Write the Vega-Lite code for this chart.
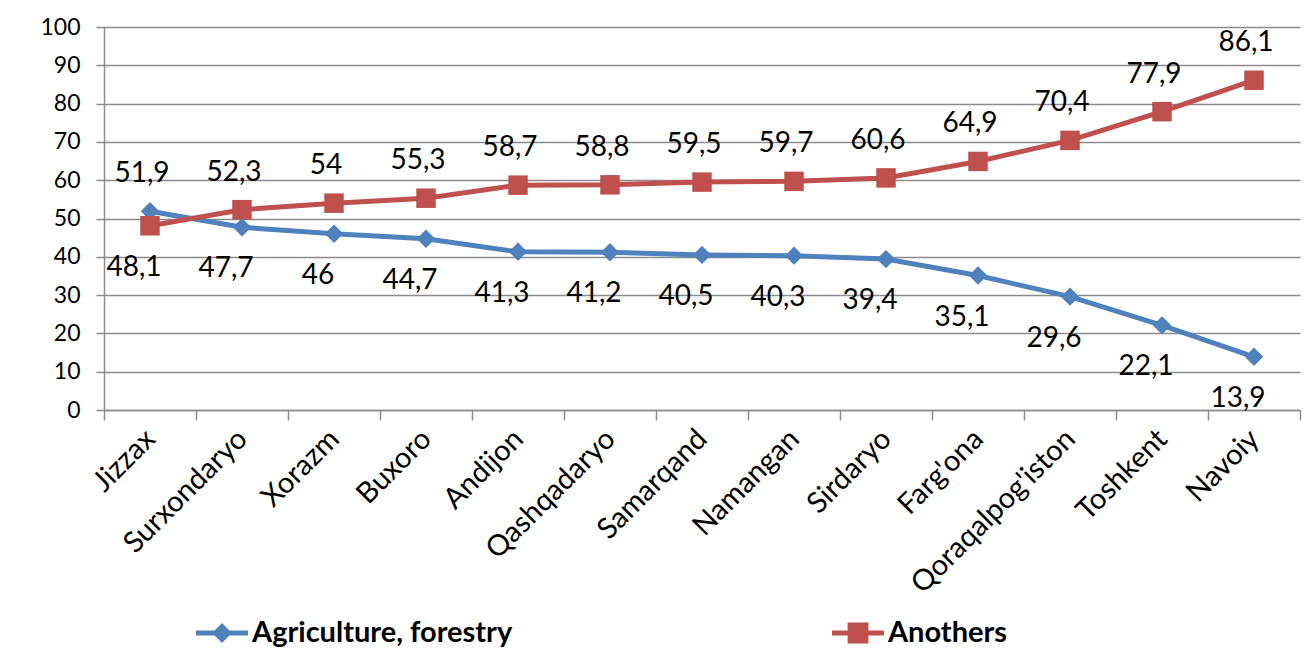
{
  "$schema": "https://vega.github.io/schema/vega-lite/v6.json",
  "width": 1196,
  "height": 383,
  "autosize": "none",
  "padding": {"left": 104, "top": 27, "right": 10, "bottom": 246},
  "background": "white",
  "config": {
    "font": "Lato",
    "view": {"stroke": null},
    "locale": {"number": {"decimal": ",", "thousands": " ", "grouping": [3], "currency": ["", ""]}}
  },
  "data": {
    "values": [
      {"region": "Jizzax", "series": "Agriculture, forestry", "value": 51.9},
      {"region": "Surxondaryo", "series": "Agriculture, forestry", "value": 47.7},
      {"region": "Xorazm", "series": "Agriculture, forestry", "value": 46},
      {"region": "Buxoro", "series": "Agriculture, forestry", "value": 44.7},
      {"region": "Andijon", "series": "Agriculture, forestry", "value": 41.3},
      {"region": "Qashqadaryo", "series": "Agriculture, forestry", "value": 41.2},
      {"region": "Samarqand", "series": "Agriculture, forestry", "value": 40.5},
      {"region": "Namangan", "series": "Agriculture, forestry", "value": 40.3},
      {"region": "Sirdaryo", "series": "Agriculture, forestry", "value": 39.4},
      {"region": "Farg'ona", "series": "Agriculture, forestry", "value": 35.1},
      {"region": "Qoraqalpog'iston", "series": "Agriculture, forestry", "value": 29.6},
      {"region": "Toshkent", "series": "Agriculture, forestry", "value": 22.1},
      {"region": "Navoiy", "series": "Agriculture, forestry", "value": 13.9},
      {"region": "Jizzax", "series": "Anothers", "value": 48.1},
      {"region": "Surxondaryo", "series": "Anothers", "value": 52.3},
      {"region": "Xorazm", "series": "Anothers", "value": 54},
      {"region": "Buxoro", "series": "Anothers", "value": 55.3},
      {"region": "Andijon", "series": "Anothers", "value": 58.7},
      {"region": "Qashqadaryo", "series": "Anothers", "value": 58.8},
      {"region": "Samarqand", "series": "Anothers", "value": 59.5},
      {"region": "Namangan", "series": "Anothers", "value": 59.7},
      {"region": "Sirdaryo", "series": "Anothers", "value": 60.6},
      {"region": "Farg'ona", "series": "Anothers", "value": 64.9},
      {"region": "Qoraqalpog'iston", "series": "Anothers", "value": 70.4},
      {"region": "Toshkent", "series": "Anothers", "value": 77.9},
      {"region": "Navoiy", "series": "Anothers", "value": 86.1}
    ]
  },
  "transform": [
    {"joinaggregate": [{"op": "max", "field": "value", "as": "mx"}], "groupby": ["region"]}
  ],
  "encoding": {
    "x": {
      "field": "region", "type": "nominal", "sort": null,
      "scale": {"type": "band", "paddingInner": 0, "paddingOuter": 0},
      "axis": {
        "title": null, "labelAngle": -45, "labelAlign": "right", "labelBaseline": "middle",
        "labelFontSize": 29, "labelColor": "#000000", "labelPadding": 14, "labelFont": "Lato",
        "tickBand": "extent", "tickSize": 10, "tickColor": "#8c8c8c", "tickWidth": 1.5,
        "domainColor": "#8c8c8c", "domainWidth": 1.5, "grid": false, "labelLimit": 400
      }
    },
    "y": {
      "field": "value", "type": "quantitative",
      "scale": {"domain": [0, 100], "nice": false, "zero": true},
      "axis": {
        "title": null, "values": [0, 10, 20, 30, 40, 50, 60, 70, 80, 90, 100],
        "labelFontSize": 23, "labelColor": "#000000", "labelPadding": 16,
        "tickSize": 8, "tickColor": "#8c8c8c", "tickWidth": 1.5,
        "domainColor": "#8c8c8c", "domainWidth": 1.5,
        "grid": true, "gridColor": "#8c8c8c", "gridWidth": 1.5
      }
    },
    "color": {
      "field": "series", "type": "nominal",
      "scale": {"domain": ["Agriculture, forestry", "Anothers"], "range": ["#4F81BD", "#C0504D"]}
    }
  },
  "layer": [
    {
      "mark": {"type": "line", "strokeWidth": 5}
    },
    {
      "transform": [{"filter": "datum.series == 'Agriculture, forestry'"}],
      "mark": {"type": "point", "shape": "diamond", "filled": true, "size": 340, "opacity": 1}
    },
    {
      "transform": [{"filter": "datum.series == 'Anothers'"}],
      "mark": {"type": "point", "shape": "square", "filled": true, "size": 380, "opacity": 1}
    },
    {
      "transform": [{"filter": "datum.value >= datum.mx"}],
      "mark": {"type": "text", "dy": -37, "dx": -8, "fontSize": 28, "color": "#000000"},
      "encoding": {
        "text": {"field": "value", "type": "quantitative", "format": ".1~f"},
        "color": {"value": "#000000"}
      }
    },
    {
      "transform": [{"filter": "datum.value < datum.mx"}],
      "mark": {"type": "text", "dy": 42, "dx": -16, "fontSize": 28, "color": "#000000"},
      "encoding": {
        "text": {"field": "value", "type": "quantitative", "format": ".1~f"},
        "color": {"value": "#000000"}
      }
    },
    {
      "transform": [{"filter": "false"}],
      "mark": {"type": "point", "filled": true, "opacity": 1, "strokeWidth": 0},
      "encoding": {
        "shape": {
          "field": "series", "type": "nominal",
          "scale": {
            "domain": ["Agriculture, forestry", "Anothers"],
            "range": [
              "M-1,-0.1H-0.285L0,-0.385L0.285,-0.1H1V0.1H0.285L0,0.385L-0.285,0.1H-1Z",
              "M-1,-0.1H-0.4V-0.4H0.4V-0.1H1V0.1H0.4V0.4H-0.4V0.1H-1Z"
            ]
          },
          "legend": {
            "title": null, "orient": "none", "legendX": 85, "legendY": 580, "direction": "horizontal",
            "symbolSize": 2704, "symbolOffset": 7, "labelFontSize": 29, "labelFontWeight": "bold",
            "labelColor": "#000000", "columnPadding": 312, "labelLimit": 500, "symbolStrokeWidth": 0
          }
        },
        "color": {
          "field": "series", "type": "nominal",
          "legend": {
            "title": null, "orient": "none", "legendX": 85, "legendY": 580, "direction": "horizontal",
            "symbolSize": 2704, "symbolOffset": 7, "labelFontSize": 29, "labelFontWeight": "bold",
            "labelColor": "#000000", "columnPadding": 312, "labelLimit": 500, "symbolStrokeWidth": 0
          }
        }
      }
    }
  ]
}
